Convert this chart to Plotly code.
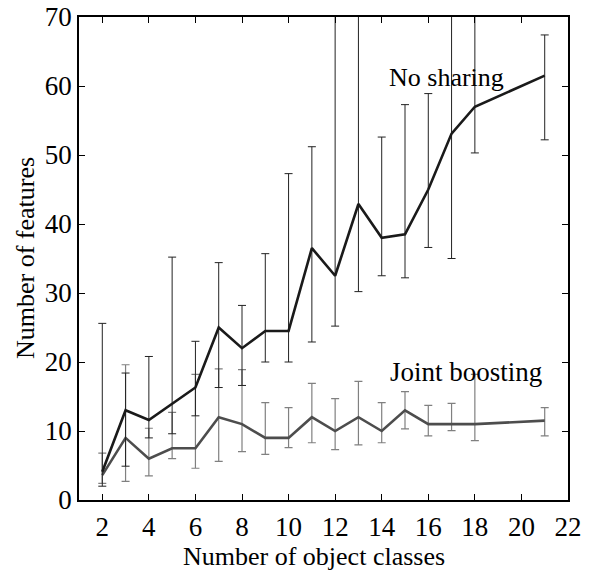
import plotly.graph_objects as go

# Number of object classes
classes = [2, 3, 4, 5, 6, 7, 8, 9, 10, 11, 12, 13, 14, 15, 16, 17, 18, 21]

# No sharing: median, lower and upper error bar ends
nosh_val = [4.1, 13.0, 11.6, 14.0, 16.3, 25.0, 22.0, 24.5, 24.5, 36.5, 32.5, 42.9, 38.0, 38.5, 45.0, 53.1, 57.0, 61.5]
nosh_lo = [2.0, 4.9, 9.0, 9.6, 12.2, 16.3, 16.6, 20.0, 20.0, 22.9, 25.2, 30.2, 32.5, 32.2, 36.6, 35.0, 50.3, 52.2]
nosh_hi = [25.6, 18.4, 20.8, 35.2, 23.0, 34.4, 28.2, 35.7, 47.3, 51.2, 78.0, 80.0, 52.6, 57.3, 58.9, 76.0, 74.0, 67.4]

# Joint boosting
joint_val = [3.6, 9.0, 6.0, 7.5, 7.5, 12.0, 11.0, 9.0, 9.0, 12.0, 10.0, 12.0, 10.0, 13.0, 11.0, 11.0, 11.0, 11.5]
joint_lo = [2.4, 2.7, 3.5, 6.0, 4.6, 5.6, 7.0, 6.6, 7.6, 8.3, 7.3, 8.0, 8.3, 10.3, 9.3, 10.05, 8.6, 9.3]
joint_hi = [6.8, 19.6, 10.4, 12.7, 18.2, 19.0, 18.9, 14.1, 13.4, 16.9, 14.7, 17.2, 14.1, 15.7, 13.7, 14.0, 18.2, 13.4]

x_ticks = [2, 4, 6, 8, 10, 12, 14, 16, 18, 20, 22]
y_ticks = [0, 10, 20, 30, 40, 50, 60, 70]

FONT = "Liberation Serif"

fig = go.Figure()

fig.add_trace(go.Scatter(
    x=classes, y=joint_val, mode="lines",
    line=dict(color="#4d4d4d", width=2.6),
    error_y=dict(type="data", symmetric=False,
                 array=[h - v for h, v in zip(joint_hi, joint_val)],
                 arrayminus=[v - l for v, l in zip(joint_val, joint_lo)],
                 color="#808080", thickness=1.2, width=4),
    showlegend=False, hoverinfo="skip",
))

fig.add_trace(go.Scatter(
    x=classes, y=nosh_val, mode="lines",
    line=dict(color="#1a1a1a", width=2.6),
    error_y=dict(type="data", symmetric=False,
                 array=[h - v for h, v in zip(nosh_hi, nosh_val)],
                 arrayminus=[v - l for v, l in zip(nosh_val, nosh_lo)],
                 color="#222222", thickness=1.0, width=4),
    showlegend=False, hoverinfo="skip",
))

fig.add_annotation(x=16.77, y=61.3, xref="x", yref="y", text="No sharing",
                   showarrow=False, font=dict(family=FONT, size=26, color="black"))
fig.add_annotation(x=17.63, y=18.6, xref="x", yref="y", text="Joint boosting",
                   showarrow=False, font=dict(family=FONT, size=27, color="black"))

# axis titles as paper annotations (pixel targets converted to paper coords)
L, R, T, B = 79, 568, 17, 500
fig.add_annotation(xref="paper", yref="paper",
                   x=(314 - L) / (R - L), y=(B - 556) / (B - T),
                   xanchor="center", yanchor="middle",
                   text="Number of object classes", showarrow=False,
                   font=dict(family=FONT, size=26, color="black"))
fig.add_annotation(xref="paper", yref="paper",
                   x=(25 - L) / (R - L), y=(B - 258) / (B - T),
                   xanchor="center", yanchor="middle", textangle=-90,
                   text="Number of features", showarrow=False,
                   font=dict(family=FONT, size=26, color="black"))

axis_common = dict(
    showgrid=False, zeroline=False, showline=True, linecolor="black", linewidth=1.5,
    mirror="ticks", ticks="inside", ticklen=6, tickwidth=1, tickcolor="black",
    tickfont=dict(family=FONT, size=27, color="black"), automargin=False,
)

fig.update_xaxes(range=[1, 22], tickvals=x_ticks, ticklabelstandoff=2, **axis_common)
fig.update_yaxes(range=[0, 70], tickvals=y_ticks, **axis_common)

fig.update_layout(
    width=591, height=573,
    margin=dict(l=L, r=591 - R, t=T, b=573 - B),
    paper_bgcolor="white", plot_bgcolor="white",
)

fig.write_html("out.html", config={"displayModeBar": False},
               post_script="document.body.style.margin='0';document.body.style.overflow='hidden';")
